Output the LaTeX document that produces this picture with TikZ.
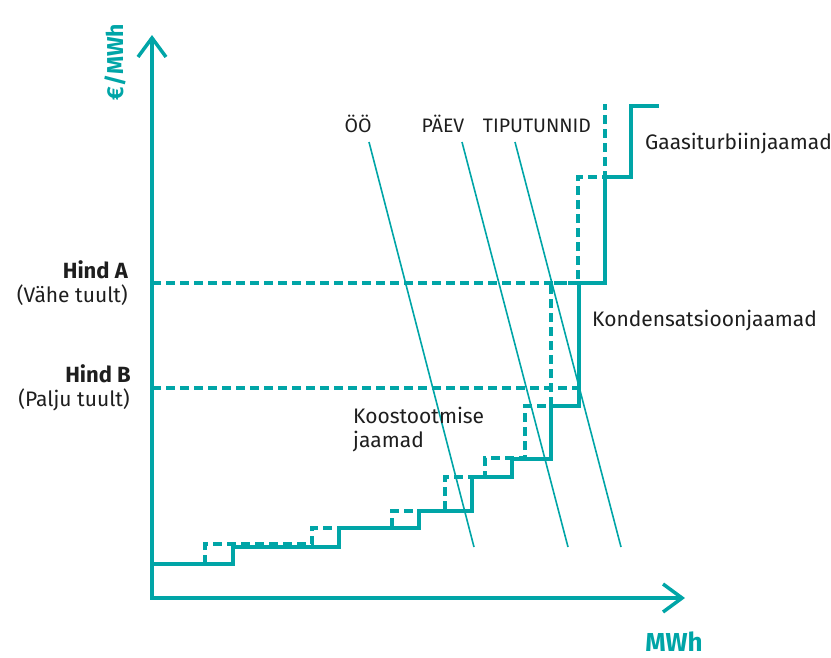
\documentclass[tikz,border=0pt]{standalone}
\usepackage{fontspec}
\setmainfont{Fira Sans}
\usetikzlibrary{arrows.meta}
\definecolor{tealline}{RGB}{0,165,167}
\definecolor{labeltext}{RGB}{30,30,30}

\begin{document}
\begin{tikzpicture}[x=1pt, y=-1pt,
    axis/.style={tealline, line width=3.5pt, {Straight Barb[length=19pt,width=28pt]}-{Straight Barb[length=19pt,width=28pt]}},
    supply/.style={tealline, line width=3.5pt},
    supplywind/.style={tealline, line width=3.5pt, dash pattern=on 9pt off 5pt},
    demand/.style={tealline, line width=1.6pt},
    lbl/.style={font=\fontsize{21}{24}\selectfont, text=labeltext, inner sep=0pt},
    caplbl/.style={font=\fontsize{19.5}{24}\selectfont, text=labeltext, inner sep=0pt},
    pricelbl/.style={font=\fontsize{22}{24}\selectfont\bfseries, text=labeltext, inner sep=0pt},
    axislbl/.style={text=tealline, inner sep=0pt}]

    \useasboundingbox (0,0) rectangle (831,657);

    % Axes
    \draw[axis] (152,35) -- (152,598) -- (685,598);
    \node[axislbl, rotate=90, anchor=base, font=\fontsize{23}{26}\selectfont\bfseries] (yaxis) at (123,62) {€/MWh};
    \node[axislbl, anchor=base, font=\fontsize{26}{30}\selectfont\bfseries] (xaxis) at (674,651) {MWh};

    % Price levels
    \draw[supplywind] (152,283) -- (578,283);
    \draw[supplywind] (152,388) -- (579,388);

    % Supply curve, much wind (dashed)
    \draw[supplywind] (205,564) |- (312,544) |- (392,528) |- (445,511) |- (485,477)
        |- (525,458) |- (551,406) |- (578,283) |- (605,177) -- (605,104);

    % Supply curve, little wind (solid)
    \draw[supply] (152,564) -| (233,547) -| (339,528) -| (419,511) -| (472,477)
        -| (512,459) -| (551,406) -| (579,283) -| (605,177) -| (631,106) -- (659,106);

    % Demand lines
    \draw[demand] (369,142) -- (474,547);
    \draw[demand] (462,142) -- (568,547);
    \draw[demand] (515,142) -- (621,547);

    % Labels
    \node[caplbl, anchor=base] (night) at (358,132) {ÖÖ};
    \node[caplbl, anchor=base] (day) at (443,132) {PÄEV};
    \node[caplbl, anchor=base] (peak) at (537,132) {TIPUTUNNID};
    \node[lbl, anchor=base west] (gas) at (645,149) {Gaasiturbiinjaamad};
    \node[lbl, anchor=base west] (cond) at (592,326) {Kondensatsioonjaamad};
    \node[lbl, anchor=base west] (chp) at (353,423) {Koostootmise};
    \node[lbl, anchor=base west] (chp2) at (353,447) {jaamad};

    % Price labels
    \node[pricelbl, anchor=base east] (priceA) at (128,278) {Hind A};
    \node[lbl, anchor=base east] (windA) at (128,302) {(Vähe tuult)};
    \node[pricelbl, anchor=base east] (priceB) at (131,382) {Hind B};
    \node[lbl, anchor=base east] (windB) at (130,406) {(Palju tuult)};
\end{tikzpicture}
\end{document}
